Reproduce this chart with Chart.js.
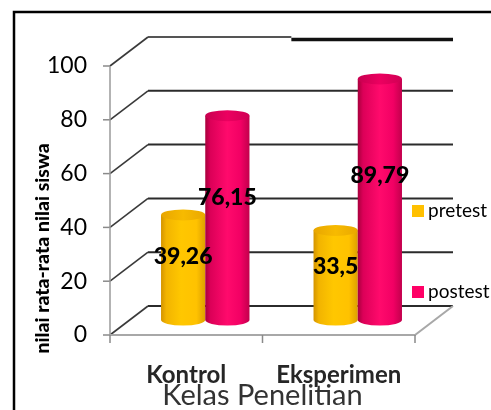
<!DOCTYPE html>
<html>
<head>
<meta charset="utf-8">
<script src="https://cdn.jsdelivr.net/npm/chart.js@4.4.0/dist/chart.umd.min.js"></script>
<style>
  html, body { margin: 0; padding: 0; background: #fff; overflow: hidden; }
  canvas { display: block; }
</style>
</head>
<body>
<canvas id="c" width="491" height="410"></canvas>
<script>
// ---- data ----
const categories = ['Kontrol', 'Eksperimen'];
const pretest = [39.26, 33.5];
const postest = [76.15, 89.79];
const seriesNames = ['pretest', 'postest'];
const yTickStep = 20;
const yMax = 100;
const yTitle = 'nilai rata-rata nilai siswa';
const xTitle = 'Kelas Penelitian';

// ---- style ----
const FONT = 'Lato, "Open Sans", sans-serif';
const DEPTH_X = 38;     // horizontal shift of the back wall
const DEPTH_Y = -29;    // vertical shift of the back wall
const seriesColors = ['#FFC000', '#FF0066'];
const sideStops = [
  [[0, '#D49400'], [0.12, '#F2B400'], [0.45, '#FFC700'], [0.8, '#FFC200'], [1, '#DDA000']],
  [[0, '#A8003C'], [0.12, '#DC0058'], [0.5, '#FF0A6C'], [0.8, '#F20064'], [1, '#C2004C']]
];
const capStops = [
  [[0, '#E8A600'], [0.5, '#F7BA00'], [1, '#E9A800']],
  [[0, '#C80050'], [0.5, '#EC0060'], [1, '#D00054']]
];

function fmt(v) { return String(v).replace('.', ','); }

function cylinder(ctx, cx, top, base, w, i) {
  const rx = w / 2, ry = 5.5;
  const l = cx - rx, r = cx + rx;
  const g = ctx.createLinearGradient(l, 0, r, 0);
  sideStops[i].forEach(([o, c]) => g.addColorStop(o, c));
  ctx.fillStyle = g;
  ctx.beginPath();
  ctx.moveTo(l, top);
  ctx.lineTo(l, base);
  ctx.ellipse(cx, base, rx, ry, 0, Math.PI, 0, true);
  ctx.lineTo(r, top);
  ctx.closePath();
  ctx.fill();
  const gc = ctx.createLinearGradient(l, 0, r, 0);
  capStops[i].forEach(([o, c]) => gc.addColorStop(o, c));
  ctx.fillStyle = gc;
  ctx.beginPath();
  ctx.ellipse(cx, top, rx, ry, 0, 0, Math.PI * 2);
  ctx.fill();
}

const scene3d = {
  id: 'scene3d',
  beforeDraw(chart) {
    const { ctx, chartArea: a, scales: { y } } = chart;
    ctx.save();
    ctx.fillStyle = '#fff';
    ctx.fillRect(0, 0, chart.width, chart.height);

    // outer frame
    ctx.strokeStyle = '#000';
    ctx.lineWidth = 2.5;
    ctx.beginPath();
    ctx.moveTo(14, chart.height + 5);
    ctx.lineTo(14, 12);
    ctx.lineTo(chart.width + 5, 12);
    ctx.stroke();

    // back wall gridlines and side wall diagonals
    y.ticks.forEach((t) => {
      const py = y.getPixelForValue(t.value);
      const bx0 = a.left + DEPTH_X, bx1 = a.right + DEPTH_X, by = py + DEPTH_Y;
      ctx.strokeStyle = '#2b2b2b';
      ctx.lineWidth = 2;
      if (t.value === yMax) {
        const split = bx0 + (bx1 - bx0) * 0.47;
        ctx.strokeStyle = '#555';
        ctx.beginPath(); ctx.moveTo(bx0, by); ctx.lineTo(split, by); ctx.stroke();
        ctx.strokeStyle = '#111';
        ctx.lineWidth = 3.5;
        ctx.beginPath(); ctx.moveTo(split, by + 2.5); ctx.lineTo(bx1, by + 2.5); ctx.stroke();
      } else {
        ctx.beginPath(); ctx.moveTo(bx0, by); ctx.lineTo(bx1, by); ctx.stroke();
      }
      ctx.strokeStyle = '#3a3a3a';
      ctx.lineWidth = 1.6;
      ctx.beginPath(); ctx.moveTo(a.left, py); ctx.lineTo(bx0, by); ctx.stroke();
      // tick mark
      ctx.strokeStyle = '#8a8a8a';
      ctx.lineWidth = 1.5;
      ctx.beginPath(); ctx.moveTo(a.left - 7, py); ctx.lineTo(a.left, py); ctx.stroke();
    });

    // vertical axis line
    ctx.strokeStyle = '#9a9a9a';
    ctx.lineWidth = 1.5;
    ctx.beginPath(); ctx.moveTo(a.left, a.top); ctx.lineTo(a.left, a.bottom); ctx.stroke();

    // floor front edge and right edge
    ctx.strokeStyle = '#a8a8a8';
    ctx.lineWidth = 2;
    ctx.beginPath();
    ctx.moveTo(a.left, a.bottom);
    ctx.lineTo(a.right, a.bottom);
    ctx.lineTo(a.right + DEPTH_X, a.bottom + DEPTH_Y);
    ctx.stroke();

    // category boundary tick marks
    ctx.strokeStyle = '#8a8a8a';
    ctx.lineWidth = 1.5;
    const n = categories.length;
    for (let k = 0; k <= n; k++) {
      const px = a.left + (a.right - a.left) * k / n;
      ctx.beginPath(); ctx.moveTo(px, a.bottom); ctx.lineTo(px, a.bottom + 8); ctx.stroke();
    }
    ctx.restore();
  },
  beforeDatasetsDraw(chart) {
    const { ctx } = chart;
    ctx.save();
    const metas = chart.data.datasets.map((d, i) => chart.getDatasetMeta(i));
    categories.forEach((c, j) => {
      metas.forEach((meta, i) => {
        const el = meta.data[j];
        const cx = el.x + DEPTH_X / 2;
        const top = el.y + DEPTH_Y / 2;
        const base = el.base + DEPTH_Y / 2;
        cylinder(ctx, cx, top, base, el.width, i);
      });
    });
    ctx.restore();
    return false;
  },
  afterDraw(chart) {
    const { ctx, chartArea: a } = chart;
    ctx.save();
    // value labels
    ctx.fillStyle = '#000';
    ctx.font = '900 23px ' + FONT;
    ctx.textAlign = 'center';
    ctx.textBaseline = 'middle';
    chart.data.datasets.forEach((ds, i) => {
      const meta = chart.getDatasetMeta(i);
      meta.data.forEach((el, j) => {
        const cx = el.x + DEPTH_X / 2;
        const top = el.y + DEPTH_Y / 2;
        const base = el.base + DEPTH_Y / 2;
        ctx.fillText(fmt(ds.data[j]), cx, base - 0.6 * (base - top));
      });
    });

    // legend
    ctx.font = '19px ' + FONT;
    ctx.textAlign = 'left';
    chart.data.datasets.forEach((ds, i) => {
      const ly = a.top + 145 + i * 81;
      ctx.fillStyle = ds.backgroundColor;
      ctx.fillRect(a.right - 3, ly - 6, 12, 12);
      ctx.fillStyle = '#000';
      ctx.fillText(ds.label, a.right + 13, ly);
    });

    // vertical axis title
    ctx.translate(a.left - 67, (a.top + a.bottom) / 2 + 48);
    ctx.rotate(-Math.PI / 2);
    ctx.font = '900 19.5px ' + FONT;
    ctx.textAlign = 'center';
    ctx.fillStyle = '#000';
    ctx.fillText(yTitle, 0, 0);
    ctx.restore();
  }
};

new Chart(document.getElementById('c'), {
  type: 'bar',
  data: {
    labels: categories,
    datasets: [
      { label: seriesNames[0], data: pretest, backgroundColor: seriesColors[0] },
      { label: seriesNames[1], data: postest, backgroundColor: seriesColors[1] }
    ]
  },
  options: {
    responsive: false,
    animation: false,
    devicePixelRatio: 1,
    categoryPercentage: 0.58,
    barPercentage: 1,
    layout: { padding: { left: 14, right: 76, top: 66, bottom: 0 } },
    plugins: { legend: { display: false }, tooltip: { enabled: false } },
    scales: {
      x: {
        grid: { color: 'rgba(0,0,0,0)', tickLength: 8 },
        border: { display: false },
        ticks: { font: { family: FONT, size: 24, weight: 'bold' }, color: '#262626', padding: 18 },
        title: { display: true, text: xTitle, font: { family: FONT, size: 29 }, color: '#333', padding: { top: 0, bottom: -3 } },
        afterFit(s) { s.height = 75; }
      },
      y: {
        min: 0, max: yMax,
        ticks: { stepSize: yTickStep, font: { family: FONT, size: 23 }, color: '#000', padding: 16 },
        grid: { color: 'rgba(0,0,0,0)', tickLength: 7 },
        border: { display: false },
        afterFit(s) { s.width = 96; }
      }
    }
  },
  plugins: [scene3d]
});
</script>
</body>
</html>
